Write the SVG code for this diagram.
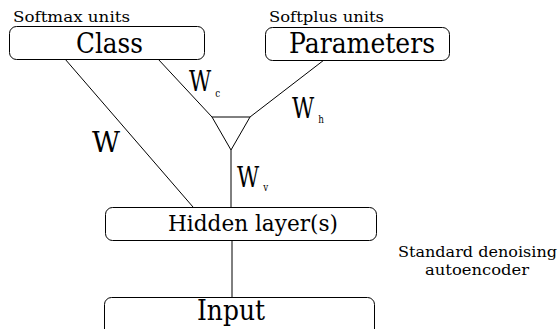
<svg xmlns="http://www.w3.org/2000/svg" width="558" height="329" viewBox="0 0 558 329">
<style>
.box{fill:#fff;stroke:#000;stroke-width:1}
.ln{stroke:#000;stroke-width:1;fill:none}
text{fill:#000;font-family:"DejaVu Serif",serif}
.big{font-size:27px}
.mid{font-size:22px}
.sm{font-size:14px}
.sub{font-size:11px}
</style>
<g id="connectors">
<line class="ln" x1="158" y1="59" x2="212" y2="117"/>
<line class="ln" x1="324" y1="60" x2="250" y2="117"/>
<line class="ln" x1="65" y1="59" x2="193" y2="207"/>
<line class="ln" x1="231" y1="150" x2="231" y2="207"/>
<line class="ln" x1="232" y1="240" x2="232" y2="297"/>
</g>
<g id="class">
<rect class="box" x="9.5" y="26.5" width="195" height="33" rx="7"/>
<text class="big" x="76" y="53" textLength="67" lengthAdjust="spacingAndGlyphs">Class</text>
<text class="sm" x="13" y="22" textLength="117" lengthAdjust="spacingAndGlyphs">Softmax units</text>
</g>
<g id="parameters">
<rect class="box" x="265.5" y="27.5" width="184" height="33" rx="7"/>
<text class="big" x="289" y="53" textLength="146" lengthAdjust="spacingAndGlyphs">Parameters</text>
<text class="sm" x="269" y="22" textLength="115" lengthAdjust="spacingAndGlyphs">Softplus units</text>
</g>
<g id="gate">
<polygon class="ln" points="212,117 250,117 231,150"/>
</g>
<g id="hidden">
<rect class="box" x="105.5" y="207.5" width="271" height="33" rx="7"/>
<text class="mid" x="168" y="231" textLength="170" lengthAdjust="spacingAndGlyphs">Hidden layer(s)</text>
</g>
<g id="input">
<rect class="box" x="104.5" y="297.5" width="270" height="40" rx="7"/>
<text class="big" x="197" y="320" textLength="68" lengthAdjust="spacingAndGlyphs">Input</text>
</g>
<g id="labels">
<text class="big" transform="translate(189 91) scale(0.8 1)">W<tspan class="sub" dx="5" dy="6">c</tspan></text>
<text class="big" transform="translate(292 118) scale(0.8 1)">W<tspan class="sub" dx="5" dy="5">h</tspan></text>
<text class="big" transform="translate(237 187) scale(0.8 1)">W<tspan class="sub" dx="5" dy="4">v</tspan></text>
<text class="big" x="92" y="152" textLength="28" lengthAdjust="spacingAndGlyphs">W</text>
<text class="sm" x="398" y="257" textLength="159" lengthAdjust="spacingAndGlyphs">Standard denoising</text>
<text class="sm" x="425" y="275" textLength="104" lengthAdjust="spacingAndGlyphs">autoencoder</text>
</g>
</svg>
